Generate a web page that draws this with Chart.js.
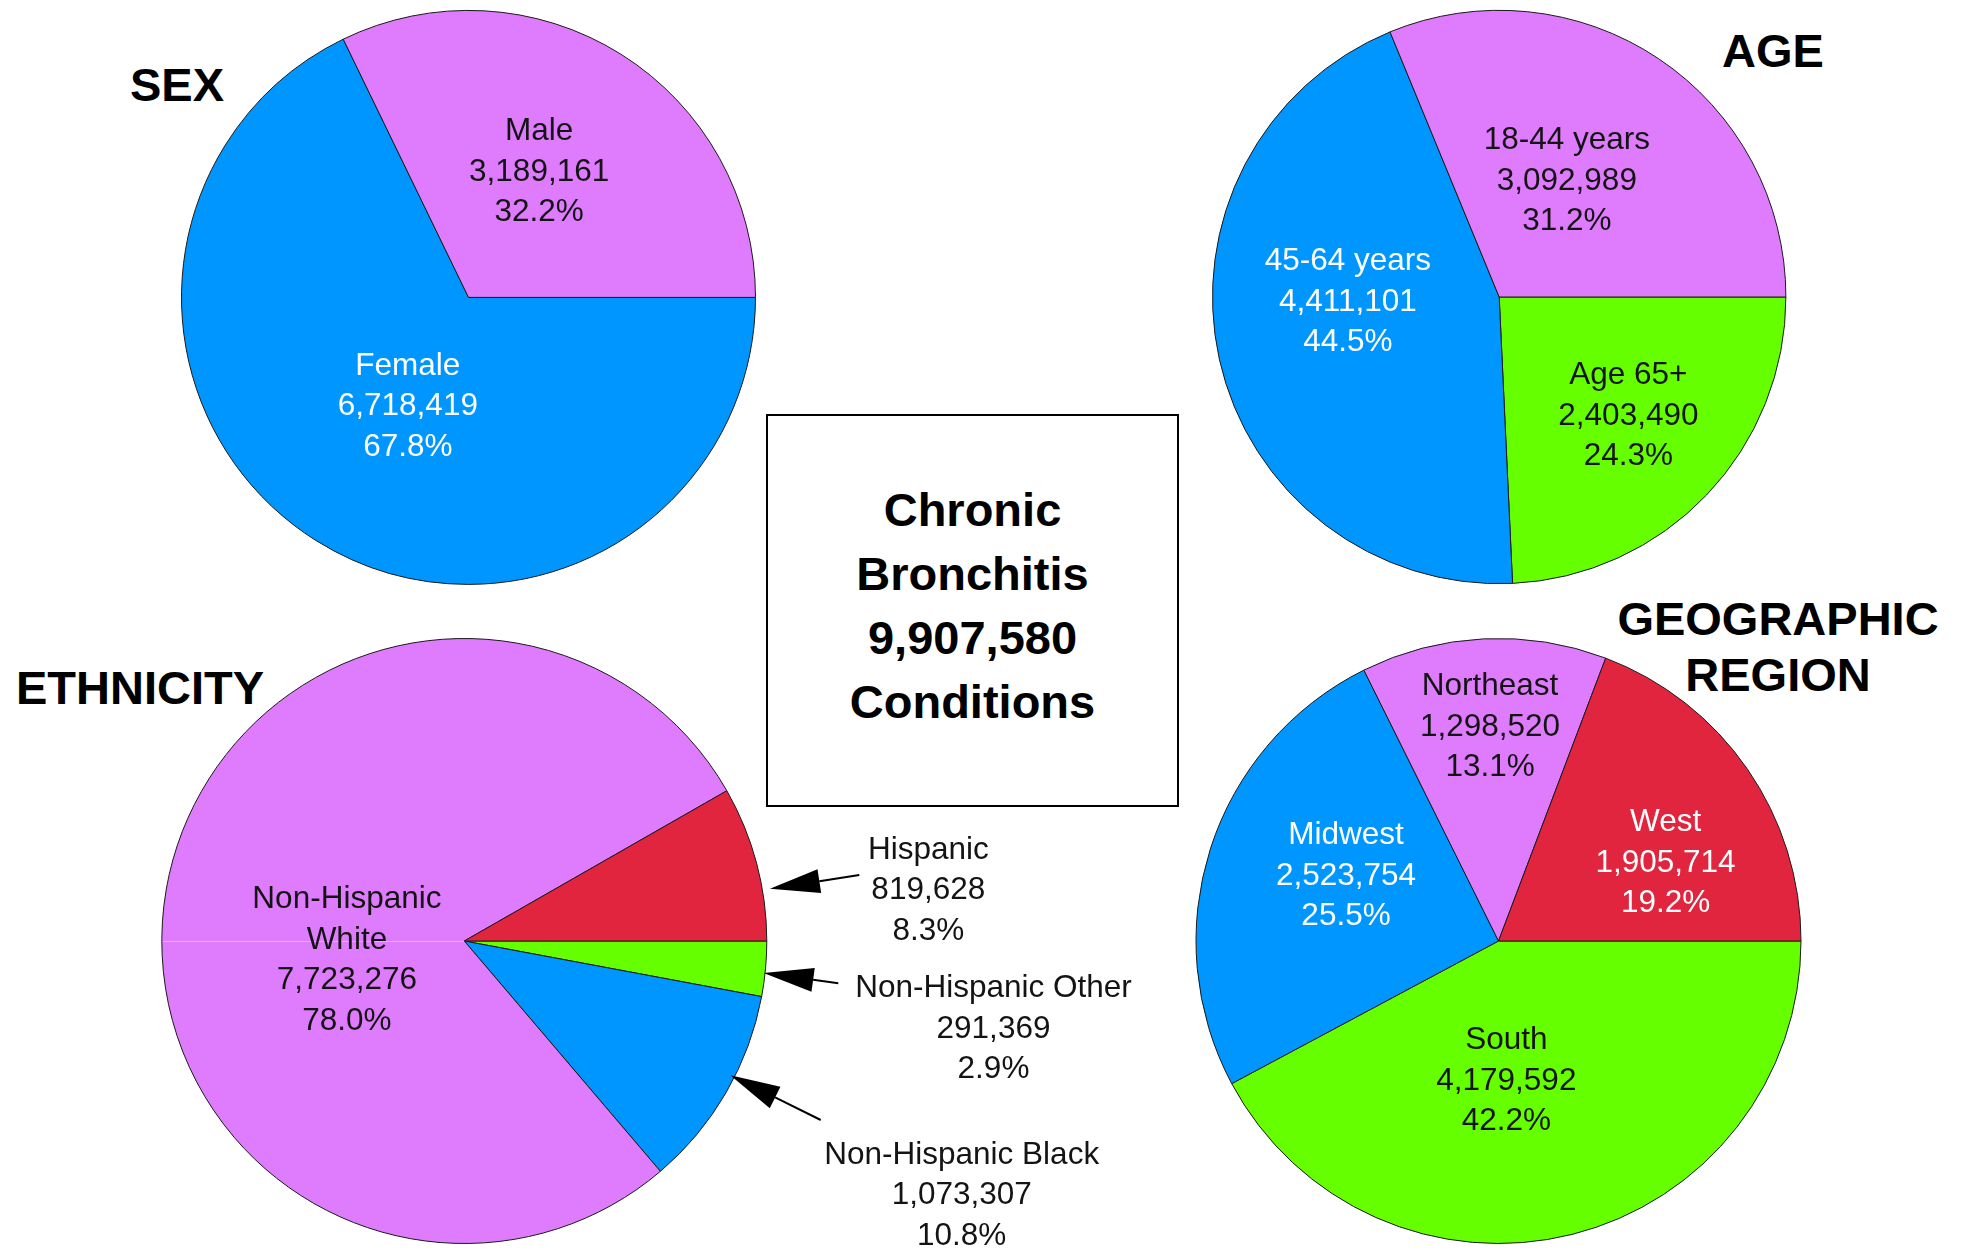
<!DOCTYPE html>
<html>
<head>
<meta charset="utf-8">
<title>Chronic Bronchitis</title>
<script src="https://cdn.jsdelivr.net/npm/chart.js@4.4.1/dist/chart.umd.min.js"></script>
<style>
    html, body { margin: 0; padding: 0; background: #fff; }
    #page { position: relative; width: 1965px; height: 1253px; overflow: hidden; font-family: Arial, "Liberation Sans", Helvetica, sans-serif; }
    #page canvas { position: absolute; left: 0; top: 0; }
    .ttl { position: absolute; width: 400px; font-weight: bold; font-size: 47px; line-height: 56px; color: #000; text-align: center; white-space: nowrap; }
    #box { position: absolute; left: 766px; top: 414px; width: 409px; height: 389px; border: 2px solid #000; }
    #boxText { position: absolute; left: 766px; top: 478px; width: 413px; font-weight: bold; font-size: 47px; line-height: 64px; text-align: center; color: #000; }
</style>
</head>
<body>
<div id="page">
    <div id="box"></div>
    <div id="boxText"></div>
    <div class="ttl" style="left:-23px; top:57px;">SEX</div>
    <div class="ttl" style="left:1573px; top:23px;">AGE</div>
    <div class="ttl" style="left:-60px; top:660px;">ETHNICITY</div>
    <div class="ttl" style="left:1578px; top:591px;">GEOGRAPHIC<br>REGION</div>
    <canvas id="cSex" width="1965" height="1253"></canvas>
    <canvas id="cAge" width="1965" height="1253"></canvas>
    <canvas id="cEth" width="1965" height="1253"></canvas>
    <canvas id="cGeo" width="1965" height="1253"></canvas>
</div>
<script>
// data (slices listed clockwise from 3 o'clock)
const total = 9907580;
const centerTitle = ['Chronic', 'Bronchitis', total.toLocaleString('en-US'), 'Conditions'];

const sexLabels = ['Female', 'Male'];
const sexValues = [6718419, 3189161];
const sexPct = ['67.8%', '32.2%'];

const ageLabels = ['Age 65+', '45-64 years', '18-44 years'];
const ageValues = [2403490, 4411101, 3092989];
const agePct = ['24.3%', '44.5%', '31.2%'];

const ethLabels = ['Non-Hispanic Other', 'Non-Hispanic Black', 'Non-Hispanic\nWhite', 'Hispanic'];
const ethValues = [291369, 1073307, 7723276, 819628];
const ethPct = ['2.9%', '10.8%', '78.0%', '8.3%'];

const geoLabels = ['South', 'Midwest', 'Northeast', 'West'];
const geoValues = [4179592, 2523754, 1298520, 1905714];
const geoPct = ['42.2%', '25.5%', '13.1%', '19.2%'];

// colours
const PURPLE = '#DF7BFD', BLUE = '#0096FF', GREEN = '#66FF00', RED = '#E1253E';
const DARK = '#141414', WHITE = '#ffffff';

document.getElementById('boxText').innerHTML = centerTitle.join('<br>');

// label drawing: in-slice text (a = angle nudge, ccw deg; f = fraction of radius)
// or an outside label with an arrow pointing at the slice
const FONT = '31.5px Arial, "Liberation Sans", Helvetica, sans-serif';
const LH = 40.5;

const drawBlock = (ctx, lines, x, cy, color) => {
    ctx.fillStyle = color;
    ctx.textAlign = 'center';
    ctx.textBaseline = 'alphabetic';
    lines.forEach((t, k) => {
        ctx.fillText(t, x, cy + (k - (lines.length - 1) / 2) * LH + 11.3);
    });
};

// tail (tx,ty) -> head tip (hx,hy)
const drawArrow = (ctx, tx, ty, hx, hy) => {
    const ang = Math.atan2(ty - hy, tx - hx);
    const len = 50, hw = 12;
    const bx = hx + Math.cos(ang) * len, by = hy + Math.sin(ang) * len;
    ctx.strokeStyle = '#000';
    ctx.lineWidth = 2;
    ctx.beginPath(); ctx.moveTo(tx, ty); ctx.lineTo(bx, by); ctx.stroke();
    ctx.fillStyle = '#000';
    ctx.beginPath();
    ctx.moveTo(hx, hy);
    ctx.lineTo(bx + Math.sin(ang) * hw, by - Math.cos(ang) * hw);
    ctx.lineTo(bx - Math.sin(ang) * hw, by + Math.cos(ang) * hw);
    ctx.closePath(); ctx.fill();
};

const sliceLabels = {
    id: 'sliceLabels',
    afterDatasetsDraw(chart, args, opts) {
        const ctx = chart.ctx;
        const meta = chart.getDatasetMeta(0);
        const ds = chart.data.datasets[0];
        ctx.save();
        if (opts.seam && meta.data.length) {
            // faint light line on the left half (seen in the original)
            const p0 = meta.data[0].getProps(['x', 'y', 'outerRadius']);
            ctx.strokeStyle = 'rgba(255,255,255,0.35)';
            ctx.lineWidth = 1;
            ctx.beginPath(); ctx.moveTo(p0.x - p0.outerRadius + 1, p0.y + 0.5); ctx.lineTo(p0.x, p0.y + 0.5); ctx.stroke();
        }
        ctx.font = FONT;
        meta.data.forEach((arc, i) => {
            const p = arc.getProps(['x', 'y', 'startAngle', 'endAngle', 'outerRadius']);
            const mid = (p.startAngle + p.endAngle) / 2;
            const pl = opts.place[i];
            const lines = String(chart.data.labels[i]).split('\n')
                .concat([ds.data[i].toLocaleString('en-US'), opts.pct[i]]);
            if (pl.ext) {
                const a = mid - pl.tipA * Math.PI / 180;
                const hx = p.x + Math.cos(a) * p.outerRadius * pl.tipF;
                const hy = p.y + Math.sin(a) * p.outerRadius * pl.tipF;
                drawArrow(ctx, p.x + pl.tail[0], p.y + pl.tail[1], hx, hy);
                drawBlock(ctx, lines, p.x + pl.at[0], p.y + pl.at[1], DARK);
            } else {
                const a = mid - pl.a * Math.PI / 180;
                const r = p.outerRadius * pl.f;
                drawBlock(ctx, lines, p.x + Math.cos(a) * r, p.y + Math.sin(a) * r, pl.color);
            }
        });
        ctx.restore();
    }
};

const W = 1965, H = 1253;

const makePie = (id, cfg) => {
    const R0 = cfg.r + 4;
    return new Chart(document.getElementById(id), {
        type: 'pie',
        data: {
            labels: cfg.labels,
            datasets: [{
                data: cfg.values,
                backgroundColor: cfg.colors,
                borderColor: '#1a1a1a',
                borderWidth: 1
            }]
        },
        options: {
            responsive: false,
            animation: false,
            events: [],
            rotation: 90,
            radius: cfg.r,
            layout: { padding: { left: cfg.cx - R0, right: W - cfg.cx - R0, top: cfg.cy - R0, bottom: H - cfg.cy - R0 } },
            plugins: {
                legend: { display: false },
                tooltip: { enabled: false },
                sliceLabels: { place: cfg.place, pct: cfg.pct, seam: !!cfg.seam }
            }
        },
        plugins: [sliceLabels]
    });
};

makePie('cSex', {
    cx: 468.5, cy: 297.4, r: 287,
    labels: sexLabels, values: sexValues, pct: sexPct,
    colors: [BLUE, PURPLE],
    place: [{ a: 2.4, f: 0.427, color: WHITE }, { a: 3.2, f: 0.51, color: DARK }]
});

makePie('cAge', {
    cx: 1499.2, cy: 297, r: 286.7,
    labels: ageLabels, values: ageValues, pct: agePct,
    colors: [GREEN, BLUE, PURPLE],
    place: [{ a: 1.6, f: 0.607, color: DARK }, { a: -11.6, f: 0.528, color: WHITE }, { a: 4.1, f: 0.476, color: DARK }]
});

makePie('cEth', {
    cx: 464.3, cy: 941, r: 302.5, seam: true,
    labels: ethLabels, values: ethValues, pct: ethPct,
    colors: [GREEN, BLUE, PURPLE, RED],
    place: [
        { ext: true, tipA: -0.8, tipF: 0.995, tail: [374, 42.3], at: [529.2, 85.3] },
        { ext: true, tipA: 3.3, tipF: 0.985, tail: [356.4, 179], at: [497.4, 252] },
        { a: 18, f: 0.392, color: DARK },
        { ext: true, tipA: -5.2, tipF: 1.025, tail: [395, -66], at: [464, -53] }
    ]
});

makePie('cGeo', {
    cx: 1498.5, cy: 941, r: 302.5,
    labels: geoLabels, values: geoValues, pct: geoPct,
    colors: [GREEN, BLUE, PURPLE, RED],
    place: [
        { a: -10.8, f: 0.455, color: DARK },
        { a: -6.1, f: 0.551, color: WHITE },
        { a: -0.6, f: 0.716, color: DARK },
        { a: -8.9, f: 0.613, color: WHITE }
    ]
});
</script>
</body>
</html>
